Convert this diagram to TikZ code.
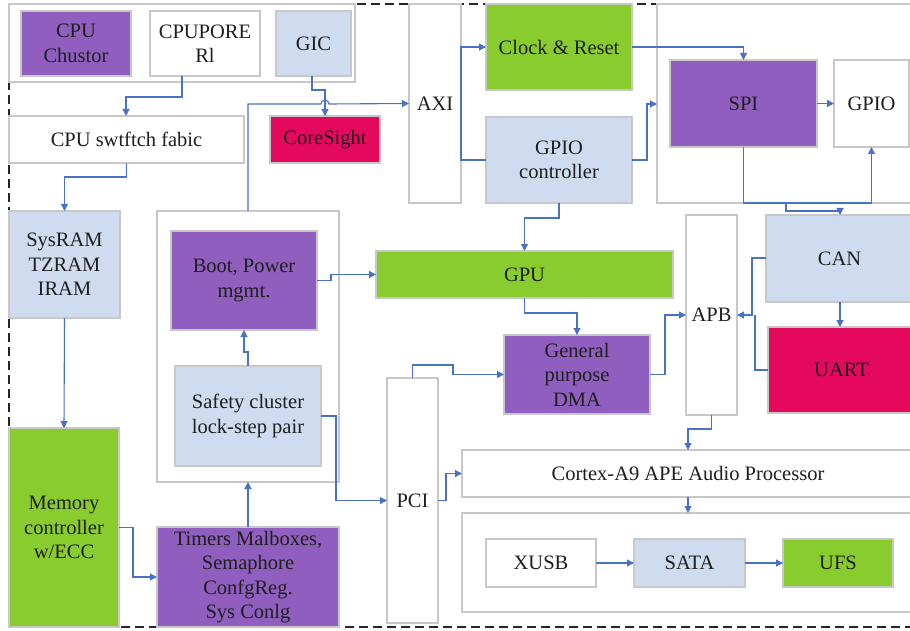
\documentclass[tikz,border=0pt]{standalone}
\usepackage{fontspec}
\setmainfont{Liberation Serif}
\usetikzlibrary{arrows.meta}
\definecolor{cpurple}{HTML}{8F5EBE}
\definecolor{cgreen}{HTML}{88CC2E}
\definecolor{clblue}{HTML}{CFDCF0}
\definecolor{cred}{HTML}{E5095D}
\definecolor{cgrey}{HTML}{C8C8C8}
\definecolor{cblue}{HTML}{4A72C4}
\definecolor{ctext}{HTML}{1E1E1E}
\newcommand\bx[7]{\node[#6, minimum width={#4-#2}, minimum height={#5-#3}] (#1) at ({(#2+#4)/2},{(#3+#5)/2}) {#7};}
\begin{document}
\begin{tikzpicture}[x=1pt,y=-1pt,
  box/.style={draw=cgrey, line width=1.2pt, inner sep=0pt, outer sep=0pt, align=center, font=\fontsize{20.5}{24.5}\selectfont, text=ctext},
  pu/.style={box, fill=cpurple}, gr/.style={box, fill=cgreen}, lb/.style={box, fill=clblue},
  rd/.style={box, fill=cred}, wh/.style={box, fill=white},
  grp/.style={draw=cgrey, line width=1.2pt, inner sep=0pt, outer sep=0pt},
  ln/.style={draw=cblue, line width=1.1pt},
  arr/.style={ln, -{Triangle[length=7pt,width=7pt]}}]
\useasboundingbox (0,0) rectangle (910,631);
% outer dashed frame
\draw[black!85, line width=1.4pt, dash pattern=on 9pt off 5pt] (912,4) -- (9,4) -- (9,627) -- (912,627);
% groups
\bx{topgrp}{9}{4}{355}{82}{grp}{}
\bx{midgrp}{157}{211}{339}{482}{grp}{}
\bx{rgrp}{657}{4}{914}{203}{grp}{}
\bx{botgrp}{462}{513}{914}{612}{grp}{}
% boxes
\bx{cpu}{21}{11}{131}{76}{pu}{CPU\\Chustor}
\bx{cpupore}{150}{11}{260}{76}{wh}{CPUPORE\\Rl}
\bx{gic}{276}{11}{351}{76}{lb}{GIC}
\bx{fabric}{9}{116}{244}{163}{wh}{CPU swtftch fabic}
\bx{coresight}{270}{116}{380}{163}{rd}{CoreSight}
\bx{axi}{409}{4}{461}{203}{wh}{AXI}
\bx{clock}{486}{4}{632}{90}{gr}{Clock \& Reset}
\bx{gpioc}{486}{117}{632}{203}{lb}{GPIO\\controller}
\bx{spi}{670}{60}{817}{147}{pu}{SPI}
\bx{gpio}{834}{60}{909}{147}{wh}{GPIO}
\bx{sysram}{9}{211}{120}{318}{lb}{SysRAM\\TZRAM\\IRAM}
\bx{boot}{171}{231}{317}{330}{pu}{Boot, Power\\mgmt.}
\bx{safety}{175}{366}{321}{466}{lb}{Safety cluster\\lock-step pair}
\bx{gpu}{376}{251}{673}{298}{gr}{GPU}
\bx{apb}{686}{215}{737}{415}{wh}{APB}
\bx{can}{766}{215}{913}{302}{lb}{CAN}
\bx{uart}{768}{327}{915}{413}{rd}{UART}
\bx{dma}{504}{335}{650}{414}{pu}{General\\purpose\\DMA}
\bx{pci}{387}{378}{438}{623}{wh}{PCI}
\bx{cortex}{462}{450}{914}{497}{wh}{Cortex-A9 APE Audio Processor}
\bx{mem}{9}{428}{119}{627}{gr}{Memory\\controller\\w/ECC}
\bx{timers}{157}{527}{339}{627}{pu}{Timers Malboxes,\\Semaphore\\ConfgReg.\\Sys Conlg}
\bx{xusb}{486}{539}{596}{587}{wh}{XUSB}
\bx{sata}{634}{539}{745}{587}{lb}{SATA}
\bx{ufs}{783}{539}{893}{587}{gr}{UFS}
% connectors
\draw[arr] (182,0 |- cpupore.south) -- (182,97) -- (126,97) -- (126,0 |- fabric.north);
\draw[arr] (312,0 |- gic.south) -- (312,90) -- (325,90) -- (325,0 |- coresight.north);
\draw[arr] (248,0 |- midgrp.north) -- (248,104) -- (321,104) arc[start angle=180, end angle=360, radius=4] -- (axi.west);
\draw[arr] (gpioc.west |- 0,160) -- (461,160) -- (461,47) -- (clock.west);
\draw[arr] (clock.east) -| (spi.north);
\draw[arr] (gpioc.east |- 0,160) -- (647,160) -- (647,104) -- (rgrp.west |- 0,104);
\draw[arr] (spi.east) -- (gpio.west);
\draw[arr] (spi.south) -- (spi.south |- 0,203) -| (gpio.south);
\draw[arr] (786,0 |- rgrp.south) -- (786,211) -- (840,211) -- (840,0 |- can.north);
\draw[arr] (840,0 |- can.south) -- (840,0 |- uart.north);
\draw[arr] (can.west |- 0,258) -- (752,258) -- (752,315) -- (apb.east |- 0,315);
\draw[ln] (uart.west) -- (755,0 |- uart.west) -- (755,315);
\draw[arr] (gpioc.south) -- (gpioc.south |- 0,218) -| (gpu.north);
\draw[arr] (gpu.south) -- (gpu.south |- 0,313) -| (dma.north);
\draw[arr] (dma.east) -- (dma.east -| 665,0) |- (apb.west);
\draw[arr] (pci.north) -- (pci.north |- 0,365) -- (453,365) |- (dma.west);
\draw[arr] (safety.east) -- (safety.east -| 336,0) |- (pci.west);
\draw[arr] (pci.east) -- (pci.east -| 446,0) |- (cortex.west);
\draw[arr] (apb.south) -- (apb.south |- 0,429) -| (cortex.north);
\draw[arr] (cortex.south) -- (botgrp.north);
\draw[arr] (xusb.east) -- (sata.west);
\draw[arr] (sata.east) -- (ufs.west);
\draw[arr] (fabric.south) -- (fabric.south |- 0,177) -| (sysram.north);
\draw[arr] (sysram.south) -- (mem.north);
\draw[arr] (mem.east) -- (mem.east -| 133,0) |- (timers.west);
\draw[arr] (timers.north) -- (midgrp.south);
\draw[arr] (safety.north) -- (safety.north |- 0,352) -| (boot.south);
\draw[arr] (boot.east) -- (boot.east -| 331,0) |- (gpu.west);
\end{tikzpicture}
\end{document}
